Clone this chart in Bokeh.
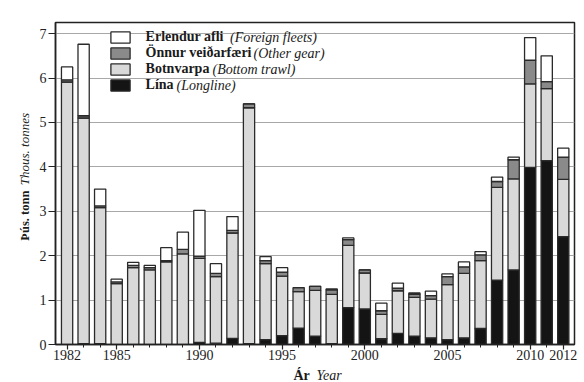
import math
from bokeh.plotting import figure
from bokeh.layouts import row, column
from bokeh.models import ColumnDataSource, Range1d, FixedTicker, Legend, LegendItem, Label
from bokeh.core.properties import value
from bokeh.embed import file_html
from bokeh.resources import INLINE

# ---------------- data (thousand tonnes) ----------------
years = list(range(1982, 2013))
lina = [0.00, 0.02, 0.02, 0.00, 0.00, 0.00, 0.00, 0.00, 0.05, 0.03,
        0.14, 0.02, 0.11, 0.20, 0.37, 0.19, 0.02, 0.83, 0.80, 0.13,
        0.25, 0.19, 0.15, 0.11, 0.15, 0.36, 1.45, 1.68, 3.99, 4.14, 2.43]
botnvarpa = [5.91, 5.08, 3.06, 1.37, 1.73, 1.68, 1.86, 2.04, 1.89, 1.50,
             2.37, 5.31, 1.71, 1.34, 0.82, 1.03, 1.11, 1.40, 0.81, 0.55,
             0.96, 0.87, 0.87, 1.24, 1.45, 1.53, 2.09, 2.05, 1.88, 1.62, 1.29]
onnur = [0.05, 0.05, 0.04, 0.04, 0.05, 0.05, 0.03, 0.10, 0.05, 0.07,
         0.06, 0.09, 0.07, 0.09, 0.09, 0.09, 0.10, 0.13, 0.07, 0.08,
         0.06, 0.07, 0.08, 0.18, 0.15, 0.13, 0.13, 0.43, 0.53, 0.16, 0.50]
erlendur = [0.29, 1.61, 0.38, 0.06, 0.07, 0.05, 0.29, 0.39, 1.03, 0.22,
            0.31, 0.00, 0.09, 0.10, 0.00, 0.00, 0.02, 0.04, 0.00, 0.17,
            0.11, 0.03, 0.10, 0.06, 0.11, 0.07, 0.10, 0.06, 0.51, 0.58, 0.20]

x_tick_years = [1982, 1985, 1990, 1995, 2000, 2005, 2010, 2012]
y_tick_values = [0, 1, 2, 3, 4, 5, 6, 7]

stack_keys = ["lina", "botnvarpa", "onnur", "erlendur"]
stack_colors = ["#141414", "#d9d9d9", "#8a8a8a", "#ffffff"]
legend_bold = ["Lína", "Botnvarpa", "Önnur veiðarfæri", "Erlendur afli"]
legend_italic = ["(Longline)", "(Bottom trawl)", "(Other gear)", "(Foreign fleets)"]
y_title = ["Þús. tonn", "Thous. tonnes"]
x_title = ["Ár", "Year"]

# ---------------- geometry ----------------
TOTAL_W, TOTAL_H = 584, 382
LW = 36                      # left strip (y title)
BH = 16                      # bottom strip (x title)
W, H = TOTAL_W - LW, TOTAL_H - BH
BL, BR, BT, BB = 55 - LW, 10, 22, H - 344
FL, FT = BL, BT
FW, FH = W - BL - BR, H - BT - BB
X0, X1 = 1981.3, 2012.68
Y0, Y1 = 0.0, 7.25
PXX = FW / (X1 - X0)
PXY = FH / (Y1 - Y0)

def dx(px):          # page px -> data x (main figure)
    return X0 + (px - LW - FL) / PXX

def dy(py):          # page px -> data y (main figure)
    return Y0 + (FT + FH - py) / PXY

SERIF = "Liberation Serif"
INK = "#1a1a1a"

source = ColumnDataSource(dict(year=years, lina=lina, botnvarpa=botnvarpa,
                               onnur=onnur, erlendur=erlendur))

p = figure(width=W, height=H, output_backend="svg", toolbar_location=None,
           x_range=Range1d(X0, X1), y_range=Range1d(Y0, Y1),
           min_border_left=BL, min_border_right=BR, min_border_top=BT,
           min_border_bottom=BB)
p.background_fill_color = "white"
p.border_fill_color = "white"
p.outline_line_color = "#222222"
p.outline_line_width = 1.5

renderers = p.vbar_stack(stack_keys, x="year", width=0.68, source=source,
                         fill_color=stack_colors, line_color="#2a2a2a",
                         line_width=1.3)

# axes
p.xaxis.ticker = FixedTicker(ticks=x_tick_years, minor_ticks=years)
p.yaxis.ticker = FixedTicker(ticks=y_tick_values)
for ax in (p.xaxis, p.yaxis):
    ax.axis_line_color = "#222222"
    ax.axis_line_width = 1.5
    ax.major_tick_line_color = "#222222"
    ax.major_tick_line_width = 1.2
    ax.major_tick_in = 0
    ax.major_label_text_font = SERIF
    ax.major_label_text_font_size = "14px"
    ax.major_label_text_color = "#222222"
p.xaxis.major_tick_out = 5
p.xaxis.minor_tick_out = 3
p.xaxis.minor_tick_in = 0
p.xaxis.minor_tick_line_color = "#222222"
p.xaxis.major_label_standoff = 0
p.yaxis.major_tick_out = 7
p.yaxis.minor_tick_line_color = None
p.yaxis.major_label_standoff = 2

p.xgrid.grid_line_color = None
p.ygrid.grid_line_color = "#a8a8a8"
p.ygrid.grid_line_width = 1

# legend (swatches + bold names)
LEG_TOP = 29.0          # page px of legend top
ROW = 16
items = [LegendItem(label=legend_bold[i], renderers=[renderers[i]]) for i in [3, 2, 1, 0]]
legend = Legend(items=items, location=(52.6, FH - (LEG_TOP - FT) - 4 * ROW),
                padding=0, margin=0, spacing=0,
                glyph_width=24, glyph_height=14, label_standoff=14, label_height=15,
                label_text_font=SERIF, label_text_font_size="14px",
                label_text_font_style="bold", label_text_color=INK,
                border_line_alpha=0, background_fill_alpha=0)
p.add_layout(legend, "center")

# italic parts of legend entries
italic_x = [229.5, 253, 212, 176]
for r, i in enumerate([3, 2, 1, 0]):
    p.add_layout(Label(x=dx(italic_x[r]), y=dy(LEG_TOP + ROW / 2 + ROW * r),
                       text=legend_italic[i], text_font=SERIF, text_font_size="14px",
                       text_font_style="italic", text_baseline="middle",
                       text_align="left", text_color=INK))

# ---------------- strips holding the axis titles ----------------
def strip(width, height):
    s = figure(width=width, height=height, output_backend="svg", toolbar_location=None,
               x_range=Range1d(0, width), y_range=Range1d(height, 0),
               x_axis_type=None, y_axis_type=None, min_border=0)
    s.outline_line_color = None
    s.background_fill_color = "white"
    s.border_fill_color = "white"
    return s

left = strip(LW, H)
left.text(x=[24], y=[248], text=[y_title[0]], angle=math.pi / 2,
          text_font=value(SERIF), text_font_size="12.5px", text_font_style="bold",
          text_baseline="middle", text_align="left", text_color=INK)
left.text(x=[24], y=[185], text=[y_title[1]], angle=math.pi / 2,
          text_font=value(SERIF), text_font_size="13px", text_font_style="italic",
          text_baseline="middle", text_align="left", text_color=INK)

bottom = strip(TOTAL_W, BH)
bottom.text(x=[293], y=[374.5 - H], text=[x_title[0]],
            text_font=value(SERIF), text_font_size="14px", text_font_style="bold",
            text_baseline="middle", text_align="left", text_color=INK)
bottom.text(x=[316], y=[374.5 - H], text=[x_title[1]],
            text_font=value(SERIF), text_font_size="14px", text_font_style="italic",
            text_baseline="middle", text_align="left", text_color=INK)

layout = column(row(left, p, spacing=0), bottom, spacing=0)
open("out.html", "w").write(file_html(layout, INLINE))
